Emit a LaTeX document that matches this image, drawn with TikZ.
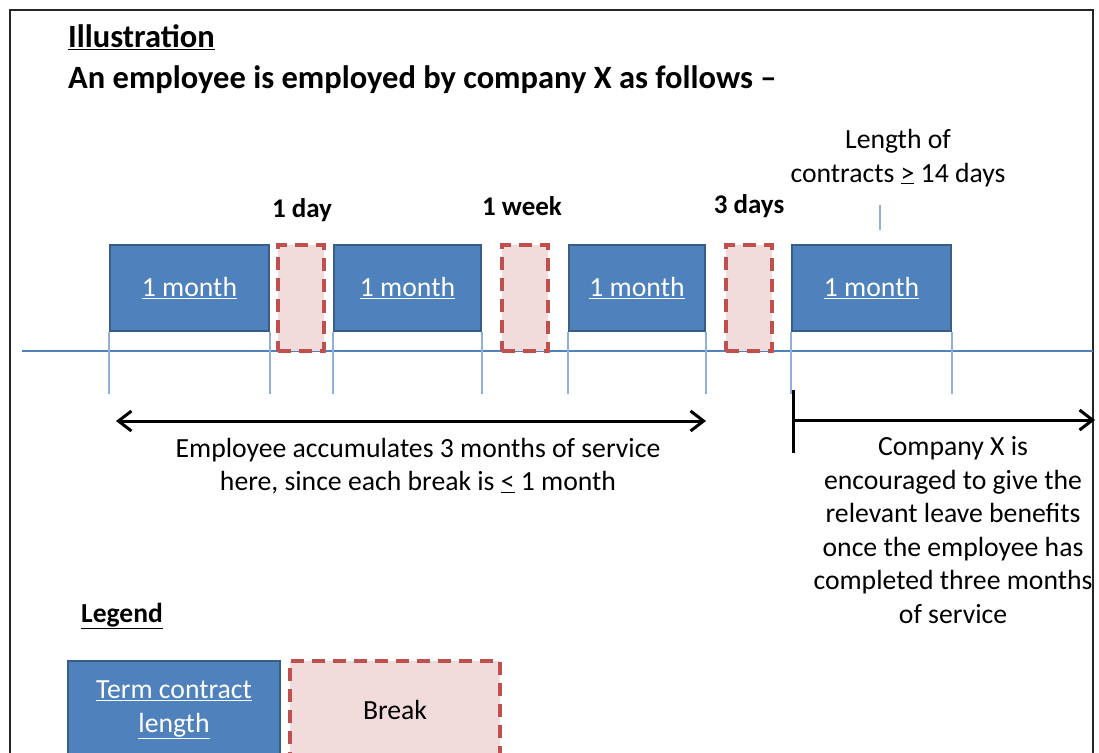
\documentclass[tikz,border=0pt]{standalone}
\usepackage{fontspec}
\setmainfont{Carlito}
\usetikzlibrary{arrows.meta}
\definecolor{boxblue}{HTML}{4F81BD}
\definecolor{boxedge}{HTML}{385D8A}
\definecolor{brkred}{HTML}{C0504D}
\definecolor{brkfill}{HTML}{F2DCDB}
\definecolor{ticklight}{HTML}{8EB0DC}
\tikzset{
  body/.style={font=\fontsize{27.7}{33.5}\selectfont, text=black},
  contract/.style={draw=boxedge, line width=2.6pt, fill=boxblue, text=white, inner sep=0pt,
    font=\fontsize{27.7}{33.5}\selectfont, align=center},
  brk/.style={draw=brkred, line width=3.5pt, fill=brkfill, dash pattern=on 13pt off 8pt, inner sep=0pt,
    font=\fontsize{27.7}{33.5}\selectfont},
  tickline/.style={draw=ticklight, line width=1.8pt},
  timeline/.style={draw=boxblue, line width=1.2pt},
  bigarrow/.style={draw=black, line width=3pt},
  lbl/.style={font=\bfseries\fontsize{27}{33}\selectfont, text=black},
}
\begin{document}
\begin{tikzpicture}[x=1pt,y=-1pt]
\useasboundingbox (0,0) rectangle (1099,752);
% frame
\draw[line width=2pt, black!85] (10,760) -- (10,10) -- (1093,10) -- (1093,760);
% headings
\node[anchor=base west, inner sep=0pt, font=\bfseries\fontsize{32.5}{38}\selectfont] (ill) at (68,48) {\underline{Illustration}};
\node[anchor=base west, inner sep=0pt, font=\bfseries\fontsize{32.5}{38}\selectfont] (head) at (68,88) {An employee is employed by company X as follows --};
% timeline
\coordinate (t0) at (22,351);
\coordinate (t1) at (1093,351);
\draw[timeline] (t0) -- (t1);
% breaks
\node[brk, minimum width=46pt, minimum height=106pt] (b1) at (301,298) {};
\node[brk, minimum width=46pt, minimum height=106pt] (b2) at (525,298) {};
\node[brk, minimum width=46pt, minimum height=106pt] (b3) at (749,298) {};
% contracts
\node[contract, minimum width=159pt, minimum height=86pt] (m1) at (189.5,288) {\underline{1 month}};
\node[contract, minimum width=147pt, minimum height=86pt] (m2) at (407.5,288) {\underline{1 month}};
\node[contract, minimum width=136pt, minimum height=86pt] (m3) at (637,288) {\underline{1 month}};
\node[contract, minimum width=159pt, minimum height=86pt] (m4) at (871.5,288) {\underline{1 month}};
% ticks
\foreach \m in {m1,m2,m3,m4}{
  \draw[tickline] (\m.south west) -- ++(0,62);
  \draw[tickline] (\m.south east) -- ++(0,62);
}
% break labels
\node[lbl] (l1) at (302,210) {1 day};
\node[lbl] (l2) at (522,206) {1 week};
\node[lbl] (l3) at (749,206) {3 days};
% length of contracts
\node[body, align=center] (len) at (898,158) {Length of\\contracts \underline{>} 14 days};
\coordinate (lt0) at (880,205);
\coordinate (lt1) at (880,230);
\draw[tickline] (lt0) -- (lt1);
% accumulate arrow
\coordinate (a0) at (116,421);
\coordinate (a1) at (706,421);
\draw[bigarrow, {Straight Barb[length=13pt,width=20pt]}-{Straight Barb[length=13pt,width=20pt]}] (a0) -- (a1);
\node[body, align=center] (acc) at (418,466) {Employee accumulates 3 months of service\\here, since each break is \underline{<} 1 month};
% right arrow
\coordinate (r0) at (793,390);
\coordinate (r1) at (793,453);
\coordinate (r2) at (793,420);
\coordinate (r3) at (1095,420);
\draw[bigarrow] (r0) -- (r1);
\draw[bigarrow, -{Straight Barb[length=13pt,width=20pt]}] (r2) -- (r3);
\node[body, align=center] (comp) at (953,530) {Company X is\\encouraged to give the\\relevant leave benefits\\once the employee has\\completed three months\\of service};
% legend
\node[anchor=base west, inner sep=0pt, font=\bfseries\fontsize{27.5}{33}\selectfont] (leg) at (81,622) {\underline{Legend}};
\node[contract, minimum width=212pt, minimum height=98pt] (lc) at (174,710) {\underline{Term contract}\\\underline{length}};
\node[brk, minimum width=210pt, minimum height=98pt, text=black] (lb) at (395,710) {Break};
\end{tikzpicture}
\end{document}
